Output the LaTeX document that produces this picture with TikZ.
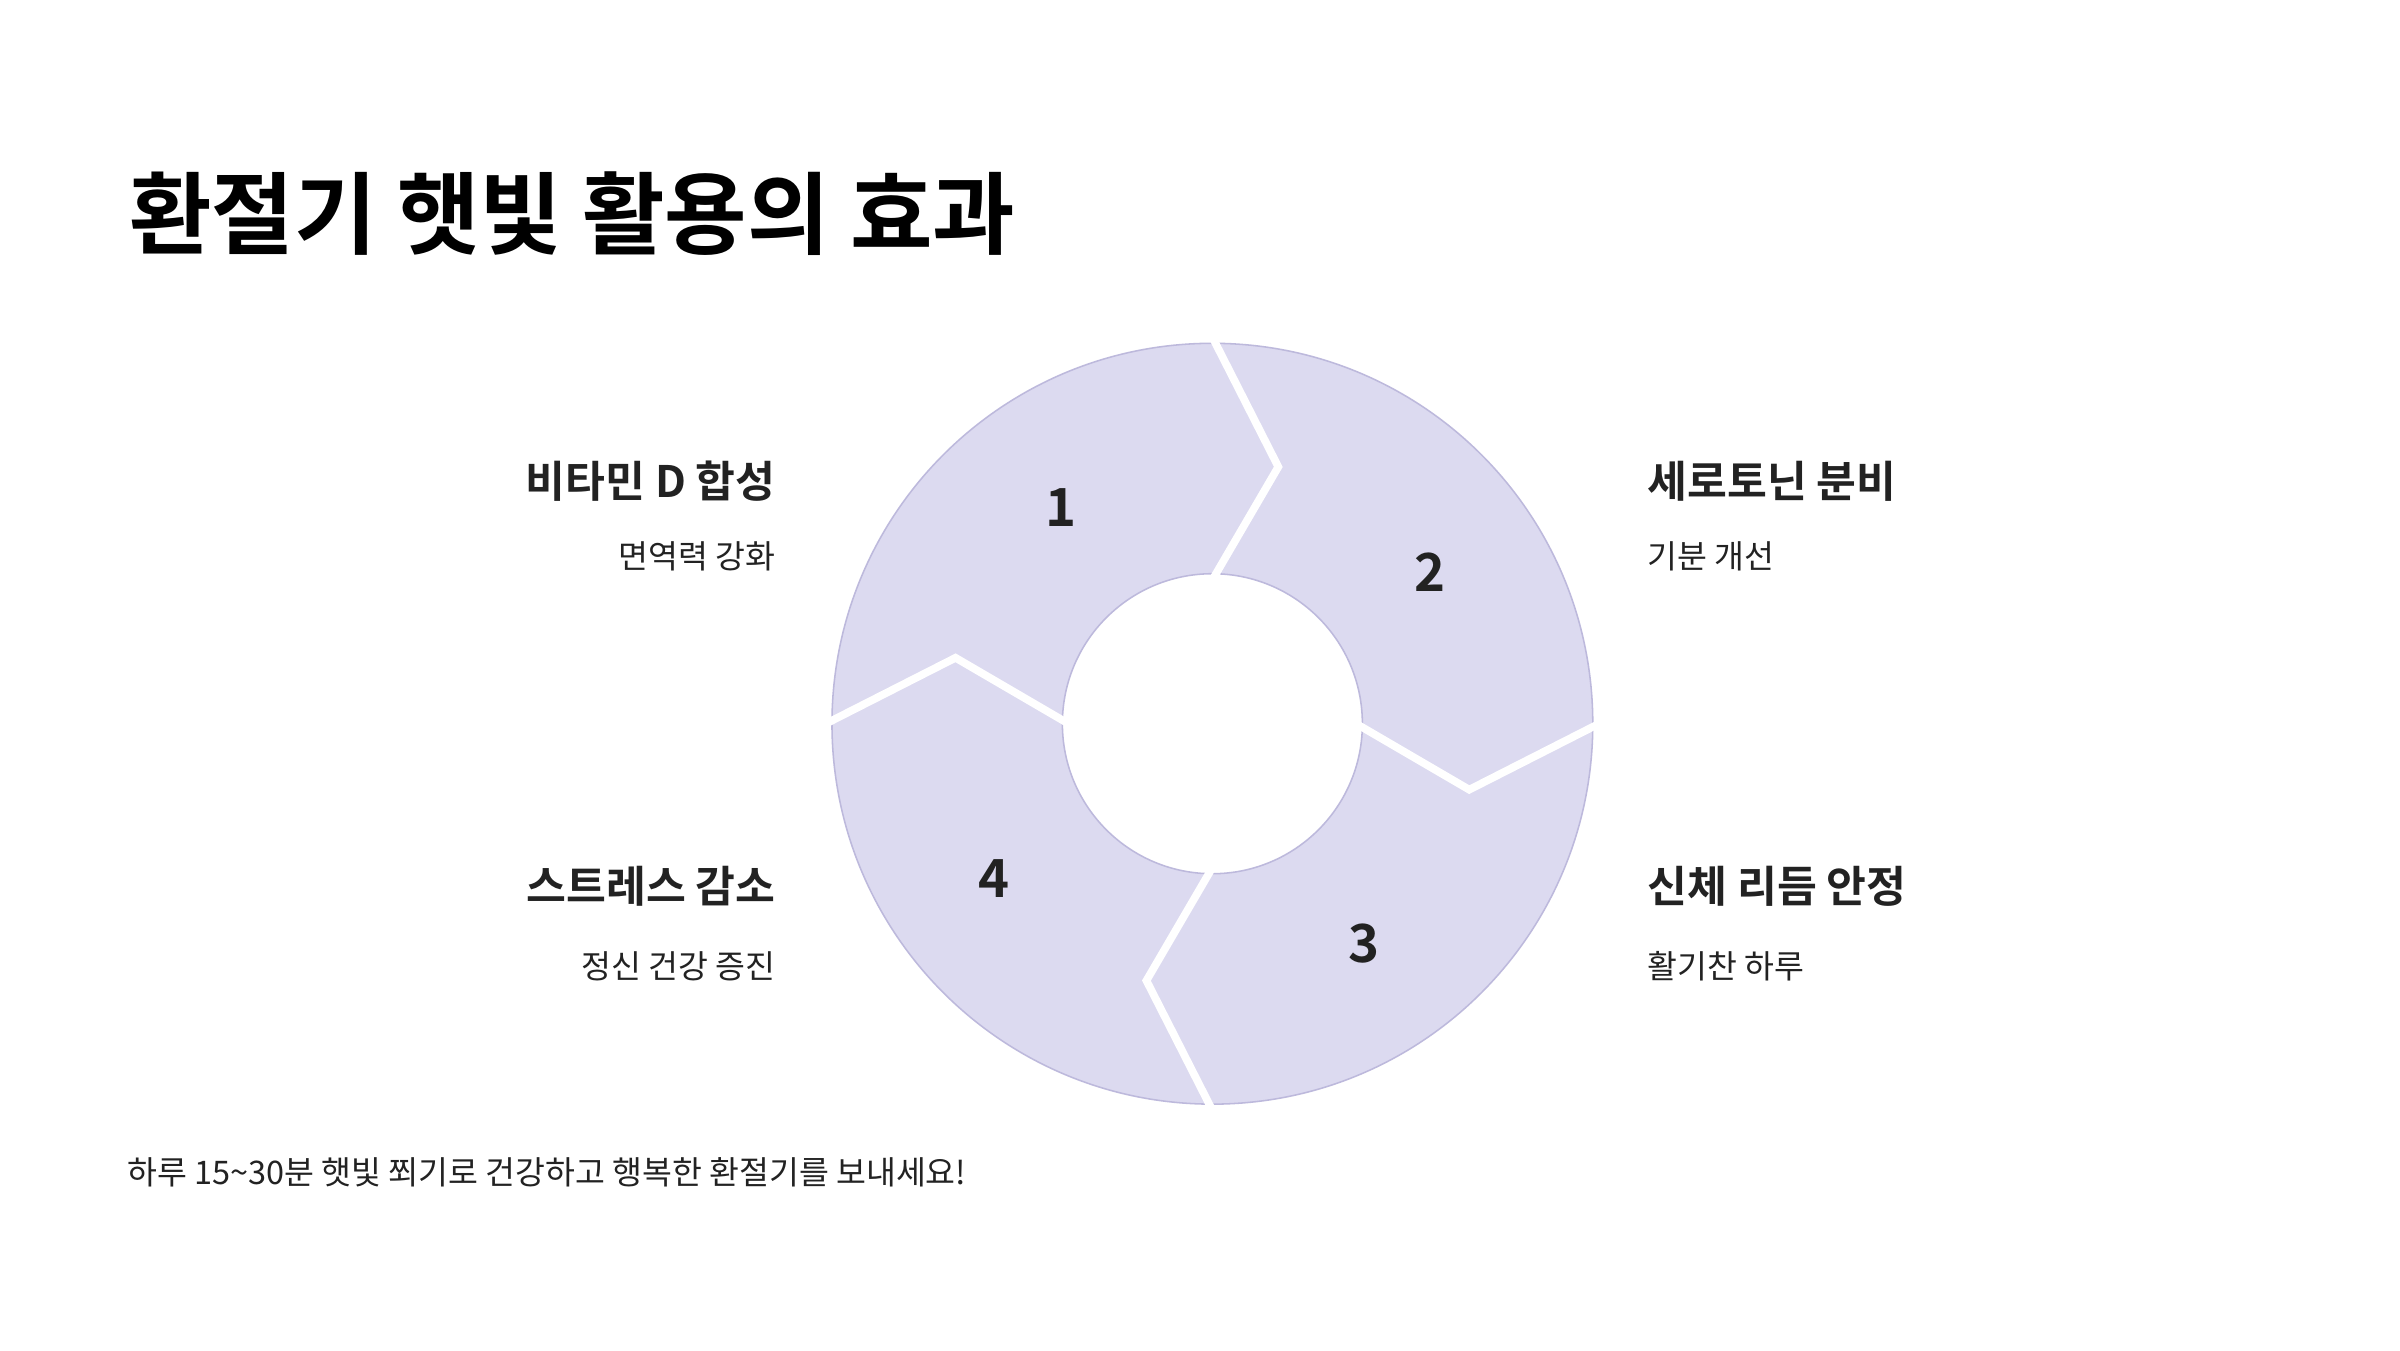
\documentclass[tikz,border=0pt]{standalone}
\usepackage{fontspec}
\setmainfont{Noto Sans CJK KR}
\newfontfamily\bfk{Noto Sans CJK KR Bold}
\definecolor{segfill}{HTML}{DCDAF0}
\definecolor{segline}{HTML}{BDB9DC}
\definecolor{ink}{HTML}{222222}
\begin{document}
\begin{tikzpicture}[x=1pt,y=-1pt,
  seg/.style={fill=segfill,draw=segline,line width=1pt},
  gapline/.style={draw=white,line width=5pt,line join=miter},
  num/.style={font=\bfk\fontsize{34}{40}\selectfont,text=ink},
  head/.style={font=\bfk\fontsize{28}{34}\selectfont,text=ink},
  sub/.style={font=\fontsize{21}{26}\selectfont,text=ink}]
\useasboundingbox[fill=white] (0,0) rectangle (1552,873);
\begin{scope}[shift={(784,468)}]
\foreach \a in {180,270,0,90}{
  \pgfmathsetmacro{\b}{\a+90}
  \fill[segfill] plot[domain=\a:\b,samples=40] (\x:246) -- (\b+14.4:171.5) -- (\b:97)
     -- plot[domain=\b:\a,samples=40] (\x:97) -- (\a+14.4:171.5) -- cycle;
}
\draw[segline,line width=1pt] (0,0) circle[radius=246];
\draw[segline,line width=1pt] (0,0) circle[radius=97];
\foreach \a in {0,90,180,270}{
  \draw[gapline] (\a:250) -- (\a+14.4:171.5) -- (\a:93);
}
\end{scope}
\node[num] (n1) at (686,328) {1};
\node[num] (n2) at (925,370) {2};
\node[num] (n3) at (882,610) {3};
\node[num] (n4) at (643,568) {4};
\node[font=\bfk\fontsize{58}{66}\selectfont,anchor=west,text=black] (t) at (80,138) {환절기 햇빛 활용의 효과};
\node[head,anchor=east] (l1) at (505,311) {비타민 D 합성};
\node[sub,anchor=east] (l1s) at (505,360) {면역력 강화};
\node[head,anchor=east] (l4) at (505,573) {스트레스 감소};
\node[sub,anchor=east] (l4s) at (505,625) {정신 건강 증진};
\node[head,anchor=west] (r2) at (1062,311) {세로토닌 분비};
\node[sub,anchor=west] (r2s) at (1062,360) {기분 개선};
\node[head,anchor=west] (r3) at (1062,573) {신체 리듬 안정};
\node[sub,anchor=west] (r3s) at (1062,625) {활기찬 하루};
\node[sub,anchor=west] (f) at (79,758) {하루 15\textasciitilde30분 햇빛 쬐기로 건강하고 행복한 환절기를 보내세요!};
\end{tikzpicture}
\end{document}
